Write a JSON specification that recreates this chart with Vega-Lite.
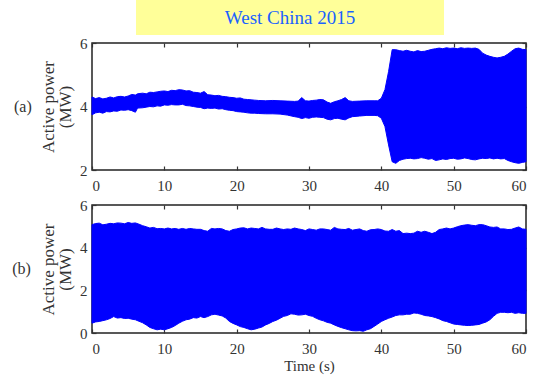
{
  "$schema": "https://vega.github.io/schema/vega-lite/v6.json",
  "padding": {"left": 11, "top": 0, "right": 5, "bottom": 5},
  "background": "white",
  "config": {
    "view": {"stroke": "#222", "strokeWidth": 1.5},
    "axis": {
      "labelFont": "Liberation Serif", "labelFontSize": 15, "labelColor": "#333",
      "titleFont": "Liberation Serif", "titleFontSize": 15, "titleFontWeight": "normal", "titleColor": "#333",
      "tickColor": "#333", "tickSize": -4, "tickWidth": 1.2, "domain": false, "grid": false
    },
    "axisY": {"titleFontSize": 17, "titleLineHeight": 17}
  },
  "datasets": {
    "a": [
      {"t":0,"lo":3.74,"hi":4.30},{"t":0.5,"lo":3.80,"hi":4.25},{"t":1,"lo":3.82,"hi":4.28},{"t":1.5,"lo":3.79,"hi":4.24},
      {"t":2,"lo":3.84,"hi":4.26},{"t":2.5,"lo":3.83,"hi":4.30},{"t":3,"lo":3.86,"hi":4.27},{"t":3.5,"lo":3.85,"hi":4.31},
      {"t":4,"lo":3.89,"hi":4.32},{"t":4.5,"lo":3.88,"hi":4.30},{"t":5,"lo":3.90,"hi":4.33},{"t":5.5,"lo":3.87,"hi":4.38},
      {"t":6,"lo":3.82,"hi":4.36},{"t":6.3,"lo":3.95,"hi":4.40},{"t":7,"lo":3.96,"hi":4.42},{"t":7.5,"lo":3.98,"hi":4.40},
      {"t":8,"lo":4.00,"hi":4.45},{"t":8.5,"lo":3.99,"hi":4.44},{"t":9,"lo":4.02,"hi":4.46},{"t":9.5,"lo":4.01,"hi":4.48},
      {"t":10,"lo":4.05,"hi":4.49},{"t":10.5,"lo":4.04,"hi":4.47},{"t":11,"lo":4.06,"hi":4.51},{"t":11.5,"lo":4.05,"hi":4.50},
      {"t":12,"lo":4.05,"hi":4.53},{"t":12.5,"lo":4.07,"hi":4.52},{"t":13,"lo":4.03,"hi":4.49},{"t":13.5,"lo":4.02,"hi":4.50},
      {"t":14,"lo":4.00,"hi":4.45},{"t":14.5,"lo":3.98,"hi":4.44},{"t":15,"lo":3.97,"hi":4.42},{"t":15.5,"lo":3.93,"hi":4.47},
      {"t":16,"lo":3.95,"hi":4.37},{"t":16.5,"lo":3.94,"hi":4.36},{"t":17,"lo":3.95,"hi":4.34},{"t":17.5,"lo":3.92,"hi":4.35},
      {"t":18,"lo":3.93,"hi":4.32},{"t":18.5,"lo":3.90,"hi":4.31},{"t":19,"lo":3.88,"hi":4.29},{"t":19.5,"lo":3.87,"hi":4.28},
      {"t":20,"lo":3.84,"hi":4.26},{"t":20.5,"lo":3.83,"hi":4.27},{"t":21,"lo":3.82,"hi":4.23},{"t":21.5,"lo":3.80,"hi":4.22},
      {"t":22,"lo":3.79,"hi":4.21},{"t":22.5,"lo":3.79,"hi":4.20},{"t":23,"lo":3.78,"hi":4.19},{"t":24,"lo":3.77,"hi":4.18},
      {"t":25,"lo":3.77,"hi":4.19},{"t":26,"lo":3.76,"hi":4.18},{"t":27,"lo":3.73,"hi":4.17},{"t":28,"lo":3.68,"hi":4.16},
      {"t":28.5,"lo":3.66,"hi":4.17},{"t":29,"lo":3.62,"hi":4.28},{"t":29.5,"lo":3.65,"hi":4.18},{"t":30,"lo":3.63,"hi":4.17},
      {"t":30.5,"lo":3.66,"hi":4.19},{"t":31,"lo":3.67,"hi":4.20},{"t":31.5,"lo":3.66,"hi":4.22},{"t":32,"lo":3.65,"hi":4.21},
      {"t":32.5,"lo":3.60,"hi":4.14},{"t":33,"lo":3.58,"hi":4.10},{"t":33.5,"lo":3.62,"hi":4.15},{"t":34,"lo":3.63,"hi":4.18},
      {"t":34.5,"lo":3.60,"hi":4.22},{"t":35,"lo":3.58,"hi":4.28},{"t":35.5,"lo":3.64,"hi":4.18},{"t":36,"lo":3.68,"hi":4.16},
      {"t":37,"lo":3.70,"hi":4.17},{"t":38,"lo":3.72,"hi":4.18},{"t":39,"lo":3.72,"hi":4.18},{"t":39.5,"lo":3.71,"hi":4.18},
      {"t":40,"lo":3.63,"hi":4.26},{"t":40.5,"lo":3.37,"hi":4.53},{"t":41,"lo":2.79,"hi":5.10},{"t":41.5,"lo":2.26,"hi":5.79},
      {"t":42,"lo":2.21,"hi":5.79},{"t":42.5,"lo":2.30,"hi":5.76},{"t":43,"lo":2.34,"hi":5.74},{"t":43.5,"lo":2.36,"hi":5.77},
      {"t":44,"lo":2.37,"hi":5.74},{"t":44.5,"lo":2.35,"hi":5.72},{"t":45,"lo":2.36,"hi":5.76},{"t":45.5,"lo":2.39,"hi":5.73},
      {"t":46,"lo":2.37,"hi":5.74},{"t":46.5,"lo":2.34,"hi":5.77},{"t":47,"lo":2.36,"hi":5.80},{"t":47.5,"lo":2.30,"hi":5.82},
      {"t":48,"lo":2.32,"hi":5.84},{"t":48.5,"lo":2.35,"hi":5.82},{"t":49,"lo":2.33,"hi":5.85},{"t":49.5,"lo":2.36,"hi":5.83},
      {"t":50,"lo":2.37,"hi":5.84},{"t":50.5,"lo":2.34,"hi":5.82},{"t":51,"lo":2.35,"hi":5.85},{"t":51.5,"lo":2.38,"hi":5.83},
      {"t":52,"lo":2.36,"hi":5.84},{"t":52.5,"lo":2.33,"hi":5.83},{"t":53,"lo":2.32,"hi":5.84},{"t":53.5,"lo":2.35,"hi":5.80},
      {"t":54,"lo":2.37,"hi":5.68},{"t":54.5,"lo":2.36,"hi":5.62},{"t":55,"lo":2.38,"hi":5.58},{"t":55.5,"lo":2.35,"hi":5.55},
      {"t":56,"lo":2.37,"hi":5.53},{"t":56.5,"lo":2.35,"hi":5.55},{"t":57,"lo":2.36,"hi":5.58},{"t":57.5,"lo":2.30,"hi":5.65},
      {"t":58,"lo":2.26,"hi":5.74},{"t":58.5,"lo":2.23,"hi":5.82},{"t":59,"lo":2.21,"hi":5.84},{"t":59.5,"lo":2.24,"hi":5.80},
      {"t":60,"lo":2.26,"hi":5.79}
    ],
    "b": [
      {"t":0,"lo":0.46,"hi":5.08},{"t":0.5,"lo":0.52,"hi":5.13},{"t":1,"lo":0.54,"hi":5.15},{"t":1.5,"lo":0.58,"hi":5.07},
      {"t":2,"lo":0.62,"hi":5.10},{"t":2.5,"lo":0.68,"hi":5.14},{"t":3,"lo":0.77,"hi":5.12},{"t":3.5,"lo":0.70,"hi":5.16},
      {"t":4,"lo":0.72,"hi":5.15},{"t":4.5,"lo":0.68,"hi":5.12},{"t":5,"lo":0.69,"hi":5.18},{"t":5.5,"lo":0.65,"hi":5.14},
      {"t":6,"lo":0.62,"hi":5.16},{"t":6.5,"lo":0.55,"hi":5.10},{"t":7,"lo":0.48,"hi":5.03},{"t":7.5,"lo":0.38,"hi":4.98},
      {"t":8,"lo":0.26,"hi":4.92},{"t":8.5,"lo":0.20,"hi":4.95},{"t":9,"lo":0.15,"hi":4.89},{"t":9.5,"lo":0.18,"hi":4.90},
      {"t":10,"lo":0.15,"hi":4.88},{"t":10.5,"lo":0.20,"hi":4.92},{"t":11,"lo":0.26,"hi":4.88},{"t":11.5,"lo":0.35,"hi":4.90},
      {"t":12,"lo":0.46,"hi":4.86},{"t":12.5,"lo":0.55,"hi":4.90},{"t":13,"lo":0.62,"hi":4.86},{"t":13.5,"lo":0.65,"hi":4.90},
      {"t":14,"lo":0.72,"hi":4.88},{"t":14.5,"lo":0.70,"hi":4.86},{"t":15,"lo":0.77,"hi":4.86},{"t":15.5,"lo":0.72,"hi":4.80},
      {"t":16,"lo":0.77,"hi":4.77},{"t":16.5,"lo":0.85,"hi":4.90},{"t":17,"lo":0.88,"hi":4.88},{"t":17.5,"lo":0.84,"hi":4.90},
      {"t":18,"lo":0.80,"hi":4.88},{"t":18.5,"lo":0.70,"hi":4.80},{"t":19,"lo":0.54,"hi":4.77},{"t":19.5,"lo":0.45,"hi":4.85},
      {"t":20,"lo":0.38,"hi":4.88},{"t":20.5,"lo":0.30,"hi":4.92},{"t":21,"lo":0.26,"hi":4.93},{"t":21.5,"lo":0.20,"hi":4.88},
      {"t":22,"lo":0.15,"hi":4.92},{"t":22.5,"lo":0.18,"hi":4.90},{"t":23,"lo":0.23,"hi":4.88},{"t":23.5,"lo":0.28,"hi":4.95},
      {"t":24,"lo":0.38,"hi":4.88},{"t":24.5,"lo":0.45,"hi":4.86},{"t":25,"lo":0.54,"hi":4.86},{"t":25.5,"lo":0.60,"hi":4.92},
      {"t":26,"lo":0.69,"hi":4.88},{"t":26.5,"lo":0.78,"hi":4.85},{"t":27,"lo":0.82,"hi":4.88},{"t":27.5,"lo":0.90,"hi":4.86},
      {"t":28,"lo":0.88,"hi":4.92},{"t":28.5,"lo":0.84,"hi":4.88},{"t":29,"lo":0.85,"hi":4.85},{"t":29.5,"lo":0.88,"hi":4.80},
      {"t":30,"lo":0.82,"hi":4.88},{"t":30.5,"lo":0.78,"hi":4.85},{"t":31,"lo":0.69,"hi":4.82},{"t":31.5,"lo":0.62,"hi":4.88},
      {"t":32,"lo":0.57,"hi":4.88},{"t":32.5,"lo":0.50,"hi":4.85},{"t":33,"lo":0.46,"hi":4.82},{"t":33.5,"lo":0.38,"hi":4.95},
      {"t":34,"lo":0.31,"hi":4.88},{"t":34.5,"lo":0.25,"hi":4.86},{"t":35,"lo":0.20,"hi":4.85},{"t":35.5,"lo":0.15,"hi":4.90},
      {"t":36,"lo":0.11,"hi":4.82},{"t":36.5,"lo":0.10,"hi":4.85},{"t":37,"lo":0.11,"hi":4.88},{"t":37.5,"lo":0.08,"hi":4.80},
      {"t":38,"lo":0.15,"hi":4.77},{"t":38.5,"lo":0.20,"hi":4.84},{"t":39,"lo":0.31,"hi":4.85},{"t":39.5,"lo":0.42,"hi":4.88},
      {"t":40,"lo":0.54,"hi":4.85},{"t":40.5,"lo":0.62,"hi":4.78},{"t":41,"lo":0.69,"hi":4.77},{"t":41.5,"lo":0.75,"hi":4.85},
      {"t":42,"lo":0.82,"hi":4.77},{"t":42.5,"lo":0.85,"hi":4.80},{"t":43,"lo":0.85,"hi":4.66},{"t":43.5,"lo":0.88,"hi":4.68},
      {"t":44,"lo":0.88,"hi":4.66},{"t":44.5,"lo":0.94,"hi":4.68},{"t":45,"lo":0.92,"hi":4.77},{"t":45.5,"lo":0.88,"hi":4.72},
      {"t":46,"lo":0.82,"hi":4.77},{"t":46.5,"lo":0.80,"hi":4.72},{"t":47,"lo":0.77,"hi":4.66},{"t":47.5,"lo":0.72,"hi":4.72},
      {"t":48,"lo":0.66,"hi":4.85},{"t":48.5,"lo":0.58,"hi":4.88},{"t":49,"lo":0.54,"hi":4.92},{"t":49.5,"lo":0.48,"hi":4.88},
      {"t":50,"lo":0.42,"hi":4.92},{"t":50.5,"lo":0.40,"hi":4.98},{"t":51,"lo":0.38,"hi":5.03},{"t":51.5,"lo":0.36,"hi":5.06},
      {"t":52,"lo":0.35,"hi":5.08},{"t":52.5,"lo":0.36,"hi":5.05},{"t":53,"lo":0.38,"hi":5.03},{"t":53.5,"lo":0.40,"hi":5.08},
      {"t":54,"lo":0.46,"hi":5.08},{"t":54.5,"lo":0.52,"hi":5.03},{"t":55,"lo":0.62,"hi":4.97},{"t":55.5,"lo":0.78,"hi":4.95},
      {"t":56,"lo":0.92,"hi":4.97},{"t":56.5,"lo":0.97,"hi":4.88},{"t":57,"lo":0.97,"hi":4.88},{"t":57.5,"lo":0.95,"hi":4.85},
      {"t":58,"lo":0.97,"hi":4.86},{"t":58.5,"lo":0.92,"hi":4.92},{"t":59,"lo":0.95,"hi":4.97},{"t":59.5,"lo":0.92,"hi":4.88},
      {"t":60,"lo":0.92,"hi":4.86}
    ]
  },
  "spacing": 0,
  "vconcat": [
    {
      "spacing": 0,
      "hconcat": [
        {
          "width": 44, "height": 35,
          "data": {"values": [{}]},
          "mark": {"type": "text"},
          "encoding": {"text": {"value": ""}},
          "view": {"stroke": null}
        },
        {
          "width": 308, "height": 35,
          "data": {"values": [{"label": "West China 2015"}]},
          "mark": {"type": "text", "font": "Liberation Serif", "fontSize": 19, "color": "#1a62ff", "align": "center", "baseline": "middle"},
          "encoding": {"text": {"field": "label"}},
          "view": {"fill": "#FFFF99", "stroke": null}
        }
      ]
    },
    {
      "spacing": 3,
      "vconcat": [
        {
          "width": 434, "height": 127,
          "data": {"name": "a"},
          "title": {"text": "(a)", "orient": "left", "angle": 0, "align": "right", "baseline": "middle", "anchor": "middle", "fontSize": 16, "font": "Liberation Serif", "fontWeight": "normal", "color": "#333", "offset": -10},
          "layer": [
            {
              "mark": {"type": "area", "color": "#0000FF", "stroke": "#0000FF", "strokeWidth": 1},
              "encoding": {
                "x": {"field": "t", "type": "quantitative", "scale": {"domain": [0, 60], "nice": false}, "axis": {"orient": "bottom", "values": [0, 10, 20, 30, 40, 50, 60], "title": null, "labelPadding": 12}},
                "y": {"field": "lo", "type": "quantitative", "scale": {"domain": [2, 6], "nice": false, "zero": false}, "axis": {"orient": "left", "values": [2, 4, 6], "title": ["Active power", "(MW)"], "labelPadding": 9, "titlePadding": 5}},
                "y2": {"field": "hi"}
              }
            },
            {
              "mark": {"type": "area", "opacity": 0},
              "encoding": {
                "x": {"field": "t", "type": "quantitative", "scale": {"domain": [0, 60], "nice": false}, "axis": {"orient": "top", "values": [0, 10, 20, 30, 40, 50, 60], "labels": false, "title": null}},
                "y": {"field": "lo", "type": "quantitative", "scale": {"domain": [2, 6], "nice": false, "zero": false}, "axis": {"orient": "right", "values": [2, 4, 6], "labels": false, "title": null}},
                "y2": {"field": "hi"}
              }
            }
          ],
          "resolve": {"axis": {"x": "independent", "y": "independent"}}
        },
        {
          "width": 434, "height": 128,
          "data": {"name": "b"},
          "title": {"text": "(b)", "orient": "left", "angle": 0, "align": "right", "baseline": "middle", "anchor": "middle", "fontSize": 16, "font": "Liberation Serif", "fontWeight": "normal", "color": "#333", "offset": -10},
          "layer": [
            {
              "mark": {"type": "area", "color": "#0000FF", "stroke": "#0000FF", "strokeWidth": 1},
              "encoding": {
                "x": {"field": "t", "type": "quantitative", "scale": {"domain": [0, 60], "nice": false}, "axis": {"orient": "bottom", "values": [0, 10, 20, 30, 40, 50, 60], "title": "Time (s)", "labelPadding": 12, "titlePadding": 2}},
                "y": {"field": "lo", "type": "quantitative", "scale": {"domain": [0, 6], "nice": false, "zero": false}, "axis": {"orient": "left", "values": [0, 2, 4, 6], "title": ["Active power", "(MW)"], "labelPadding": 9, "titlePadding": 5}},
                "y2": {"field": "hi"}
              }
            },
            {
              "mark": {"type": "area", "opacity": 0},
              "encoding": {
                "x": {"field": "t", "type": "quantitative", "scale": {"domain": [0, 60], "nice": false}, "axis": {"orient": "top", "values": [0, 10, 20, 30, 40, 50, 60], "labels": false, "title": null}},
                "y": {"field": "lo", "type": "quantitative", "scale": {"domain": [0, 6], "nice": false, "zero": false}, "axis": {"orient": "right", "values": [0, 2, 4, 6], "labels": false, "title": null}},
                "y2": {"field": "hi"}
              }
            }
          ],
          "resolve": {"axis": {"x": "independent", "y": "independent"}}
        }
      ]
    }
  ]
}
